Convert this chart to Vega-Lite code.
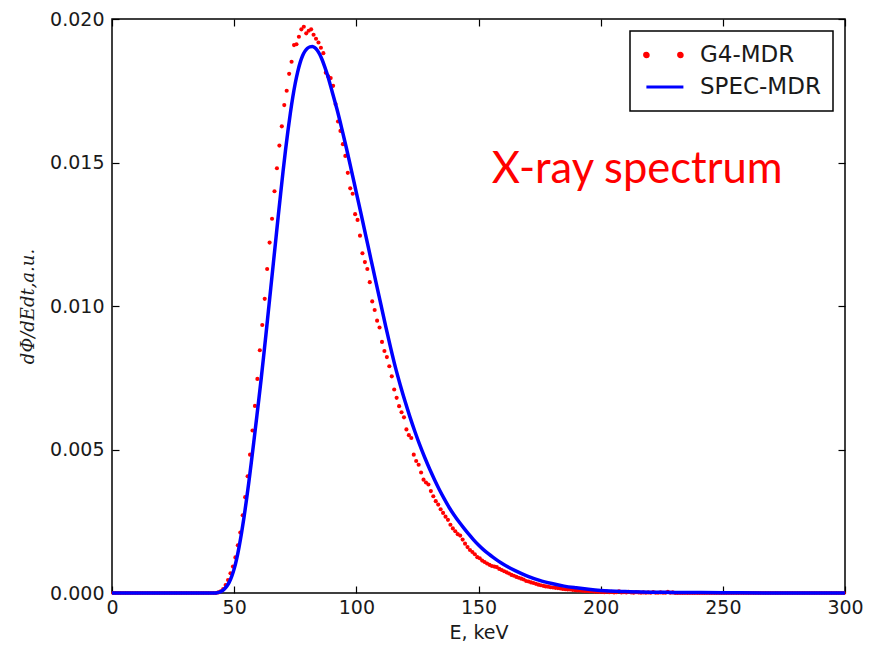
{
  "$schema": "https://vega.github.io/schema/vega-lite/v6.json",
  "width": 733,
  "height": 574,
  "autosize": "none",
  "padding": {"left": 112, "top": 19, "right": 30, "bottom": 52},
  "background": "white",
  "data": {"values": [
    {"s":"G4-MDR","e":0.5,"v":0},{"s":"G4-MDR","e":1.5,"v":0},{"s":"G4-MDR","e":2.5,"v":0},{"s":"G4-MDR","e":3.5,"v":0},{"s":"G4-MDR","e":4.5,"v":0},{"s":"G4-MDR","e":5.5,"v":0},{"s":"G4-MDR","e":6.5,"v":0},{"s":"G4-MDR","e":7.5,"v":0},{"s":"G4-MDR","e":8.5,"v":0},{"s":"G4-MDR","e":9.5,"v":0},
    {"s":"G4-MDR","e":10.5,"v":0},{"s":"G4-MDR","e":11.5,"v":0},{"s":"G4-MDR","e":12.5,"v":0},{"s":"G4-MDR","e":13.5,"v":0},{"s":"G4-MDR","e":14.5,"v":0},{"s":"G4-MDR","e":15.5,"v":0},{"s":"G4-MDR","e":16.5,"v":0},{"s":"G4-MDR","e":17.5,"v":0},{"s":"G4-MDR","e":18.5,"v":0},{"s":"G4-MDR","e":19.5,"v":0},
    {"s":"G4-MDR","e":20.5,"v":0},{"s":"G4-MDR","e":21.5,"v":0},{"s":"G4-MDR","e":22.5,"v":0},{"s":"G4-MDR","e":23.5,"v":0},{"s":"G4-MDR","e":24.5,"v":0},{"s":"G4-MDR","e":25.5,"v":0},{"s":"G4-MDR","e":26.5,"v":0},{"s":"G4-MDR","e":27.5,"v":0},{"s":"G4-MDR","e":28.5,"v":0},{"s":"G4-MDR","e":29.5,"v":0},
    {"s":"G4-MDR","e":30.5,"v":0},{"s":"G4-MDR","e":31.5,"v":0},{"s":"G4-MDR","e":32.5,"v":0},{"s":"G4-MDR","e":33.5,"v":0},{"s":"G4-MDR","e":34.5,"v":0},{"s":"G4-MDR","e":35.5,"v":0},{"s":"G4-MDR","e":36.5,"v":0},{"s":"G4-MDR","e":37.5,"v":0},{"s":"G4-MDR","e":38.5,"v":0},{"s":"G4-MDR","e":39.5,"v":0},
    {"s":"G4-MDR","e":40.5,"v":0},{"s":"G4-MDR","e":41.5,"v":0},{"s":"G4-MDR","e":42.5,"v":0},{"s":"G4-MDR","e":43.5,"v":0.00002},{"s":"G4-MDR","e":44.5,"v":0.00006},{"s":"G4-MDR","e":45.5,"v":0.00014},{"s":"G4-MDR","e":46.5,"v":0.00028},{"s":"G4-MDR","e":47.5,"v":0.00045},{"s":"G4-MDR","e":48.5,"v":0.00069},{"s":"G4-MDR","e":49.5,"v":0.00092},
    {"s":"G4-MDR","e":50.5,"v":0.00124},{"s":"G4-MDR","e":51.5,"v":0.00166},{"s":"G4-MDR","e":52.5,"v":0.00211},{"s":"G4-MDR","e":53.5,"v":0.00271},{"s":"G4-MDR","e":54.5,"v":0.00334},{"s":"G4-MDR","e":55.5,"v":0.00407},{"s":"G4-MDR","e":56.5,"v":0.00482},{"s":"G4-MDR","e":57.5,"v":0.00566},{"s":"G4-MDR","e":58.5,"v":0.00652},{"s":"G4-MDR","e":59.5,"v":0.00746},
    {"s":"G4-MDR","e":60.5,"v":0.00846},{"s":"G4-MDR","e":61.5,"v":0.00934},{"s":"G4-MDR","e":62.5,"v":0.01025},{"s":"G4-MDR","e":63.5,"v":0.01129},{"s":"G4-MDR","e":64.5,"v":0.01221},{"s":"G4-MDR","e":65.5,"v":0.01304},{"s":"G4-MDR","e":66.5,"v":0.01400},{"s":"G4-MDR","e":67.5,"v":0.01480},{"s":"G4-MDR","e":68.5,"v":0.01559},{"s":"G4-MDR","e":69.5,"v":0.01626},
    {"s":"G4-MDR","e":70.5,"v":0.01700},{"s":"G4-MDR","e":71.5,"v":0.01750},{"s":"G4-MDR","e":72.5,"v":0.01809},{"s":"G4-MDR","e":73.5,"v":0.01851},{"s":"G4-MDR","e":74.5,"v":0.01909},{"s":"G4-MDR","e":75.5,"v":0.01912},{"s":"G4-MDR","e":76.5,"v":0.01938},{"s":"G4-MDR","e":77.5,"v":0.01964},{"s":"G4-MDR","e":78.5,"v":0.01973},{"s":"G4-MDR","e":79.5,"v":0.01950},
    {"s":"G4-MDR","e":80.5,"v":0.01959},{"s":"G4-MDR","e":81.5,"v":0.01964},{"s":"G4-MDR","e":82.5,"v":0.01945},{"s":"G4-MDR","e":83.5,"v":0.01931},{"s":"G4-MDR","e":84.5,"v":0.01918},{"s":"G4-MDR","e":85.5,"v":0.01900},{"s":"G4-MDR","e":86.5,"v":0.01881},{"s":"G4-MDR","e":87.5,"v":0.01813},{"s":"G4-MDR","e":88.5,"v":0.01800},{"s":"G4-MDR","e":89.5,"v":0.01794},
    {"s":"G4-MDR","e":90.5,"v":0.01767},{"s":"G4-MDR","e":91.5,"v":0.01704},{"s":"G4-MDR","e":92.5,"v":0.01643},{"s":"G4-MDR","e":93.5,"v":0.01610},{"s":"G4-MDR","e":94.5,"v":0.01564},{"s":"G4-MDR","e":95.5,"v":0.01523},{"s":"G4-MDR","e":96.5,"v":0.01464},{"s":"G4-MDR","e":97.5,"v":0.01410},{"s":"G4-MDR","e":98.5,"v":0.01391},{"s":"G4-MDR","e":99.5,"v":0.01320},
    {"s":"G4-MDR","e":100.5,"v":0.01300},{"s":"G4-MDR","e":101.5,"v":0.01245},{"s":"G4-MDR","e":102.5,"v":0.01184},{"s":"G4-MDR","e":103.5,"v":0.01153},{"s":"G4-MDR","e":104.5,"v":0.01129},{"s":"G4-MDR","e":105.5,"v":0.01083},{"s":"G4-MDR","e":106.5,"v":0.01016},{"s":"G4-MDR","e":107.5,"v":0.00986},{"s":"G4-MDR","e":108.5,"v":0.00949},{"s":"G4-MDR","e":109.5,"v":0.00925},
    {"s":"G4-MDR","e":110.5,"v":0.00875},{"s":"G4-MDR","e":111.5,"v":0.00843},{"s":"G4-MDR","e":112.5,"v":0.00822},{"s":"G4-MDR","e":113.5,"v":0.00790},{"s":"G4-MDR","e":114.5,"v":0.00755},{"s":"G4-MDR","e":115.5,"v":0.00709},{"s":"G4-MDR","e":116.5,"v":0.00680},{"s":"G4-MDR","e":117.5,"v":0.00651},{"s":"G4-MDR","e":118.5,"v":0.00630},{"s":"G4-MDR","e":119.5,"v":0.00612},
    {"s":"G4-MDR","e":120.5,"v":0.00570},{"s":"G4-MDR","e":121.5,"v":0.00550},{"s":"G4-MDR","e":122.5,"v":0.00540},{"s":"G4-MDR","e":123.5,"v":0.00482},{"s":"G4-MDR","e":124.5,"v":0.00460},{"s":"G4-MDR","e":125.5,"v":0.00447},{"s":"G4-MDR","e":126.5,"v":0.00420},{"s":"G4-MDR","e":127.5,"v":0.00395},{"s":"G4-MDR","e":128.5,"v":0.00385},{"s":"G4-MDR","e":129.5,"v":0.00378},
    {"s":"G4-MDR","e":130.5,"v":0.00355},{"s":"G4-MDR","e":131.5,"v":0.00337},{"s":"G4-MDR","e":132.5,"v":0.00320},{"s":"G4-MDR","e":133.5,"v":0.00308},{"s":"G4-MDR","e":134.5,"v":0.00292},{"s":"G4-MDR","e":135.5,"v":0.00279},{"s":"G4-MDR","e":136.5,"v":0.00266},{"s":"G4-MDR","e":137.5,"v":0.00255},{"s":"G4-MDR","e":138.5,"v":0.00238},{"s":"G4-MDR","e":139.5,"v":0.00225},
    {"s":"G4-MDR","e":140.5,"v":0.00215},{"s":"G4-MDR","e":141.5,"v":0.00205},{"s":"G4-MDR","e":142.5,"v":0.00200},{"s":"G4-MDR","e":143.5,"v":0.00186},{"s":"G4-MDR","e":144.5,"v":0.00172},{"s":"G4-MDR","e":145.5,"v":0.00160},{"s":"G4-MDR","e":146.5,"v":0.00150},{"s":"G4-MDR","e":147.5,"v":0.00143},{"s":"G4-MDR","e":148.5,"v":0.00135},{"s":"G4-MDR","e":149.5,"v":0.00125},
    {"s":"G4-MDR","e":150.5,"v":0.00121},{"s":"G4-MDR","e":151.5,"v":0.00113},{"s":"G4-MDR","e":152.5,"v":0.00108},{"s":"G4-MDR","e":153.5,"v":0.00103},{"s":"G4-MDR","e":154.5,"v":0.00098},{"s":"G4-MDR","e":155.5,"v":0.00094},{"s":"G4-MDR","e":156.5,"v":0.00092},{"s":"G4-MDR","e":157.5,"v":0.00090},{"s":"G4-MDR","e":158.5,"v":0.00084},{"s":"G4-MDR","e":159.5,"v":0.00080},
    {"s":"G4-MDR","e":160.5,"v":0.00076},{"s":"G4-MDR","e":161.5,"v":0.00072},{"s":"G4-MDR","e":162.5,"v":0.00068},{"s":"G4-MDR","e":163.5,"v":0.00063},{"s":"G4-MDR","e":164.5,"v":0.00060},{"s":"G4-MDR","e":165.5,"v":0.00056},{"s":"G4-MDR","e":166.5,"v":0.00053},{"s":"G4-MDR","e":167.5,"v":0.00050},{"s":"G4-MDR","e":168.5,"v":0.00047},{"s":"G4-MDR","e":169.5,"v":0.00042},
    {"s":"G4-MDR","e":170.5,"v":0.00040},{"s":"G4-MDR","e":171.5,"v":0.00037},{"s":"G4-MDR","e":172.5,"v":0.00035},{"s":"G4-MDR","e":173.5,"v":0.00032},{"s":"G4-MDR","e":174.5,"v":0.00029},{"s":"G4-MDR","e":175.5,"v":0.00027},{"s":"G4-MDR","e":176.5,"v":0.00025},{"s":"G4-MDR","e":177.5,"v":0.00023},{"s":"G4-MDR","e":178.5,"v":0.00022},{"s":"G4-MDR","e":179.5,"v":0.00020},
    {"s":"G4-MDR","e":180.5,"v":0.00019},{"s":"G4-MDR","e":181.5,"v":0.00018},{"s":"G4-MDR","e":182.5,"v":0.00017},{"s":"G4-MDR","e":183.5,"v":0.00016},{"s":"G4-MDR","e":184.5,"v":0.00014},{"s":"G4-MDR","e":185.5,"v":0.00013},{"s":"G4-MDR","e":186.5,"v":0.00012},{"s":"G4-MDR","e":187.5,"v":0.00012},{"s":"G4-MDR","e":188.5,"v":0.00011},{"s":"G4-MDR","e":189.5,"v":0.00010},
    {"s":"G4-MDR","e":190.5,"v":0.00009},{"s":"G4-MDR","e":191.5,"v":0.00009},{"s":"G4-MDR","e":192.5,"v":0.00008},{"s":"G4-MDR","e":193.5,"v":0.00007},{"s":"G4-MDR","e":194.5,"v":0.00007},{"s":"G4-MDR","e":195.5,"v":0.00006},{"s":"G4-MDR","e":196.5,"v":0.00006},{"s":"G4-MDR","e":197.5,"v":0.00005},{"s":"G4-MDR","e":198.5,"v":0.00005},{"s":"G4-MDR","e":199.5,"v":0.00004},
    {"s":"G4-MDR","e":200.5,"v":0.00004},{"s":"G4-MDR","e":201.5,"v":0.00003},{"s":"G4-MDR","e":202.5,"v":0.00005},{"s":"G4-MDR","e":203.5,"v":0.00003},{"s":"G4-MDR","e":204.5,"v":0.00004},{"s":"G4-MDR","e":205.5,"v":0.00002},{"s":"G4-MDR","e":206.5,"v":0.00003},{"s":"G4-MDR","e":207.5,"v":0.00006},{"s":"G4-MDR","e":208.5,"v":0.00002},{"s":"G4-MDR","e":209.5,"v":0.00003},
    {"s":"G4-MDR","e":210.5,"v":0.00002},{"s":"G4-MDR","e":211.5,"v":0.00004},{"s":"G4-MDR","e":212.5,"v":0.00002},{"s":"G4-MDR","e":213.5,"v":0.00001},{"s":"G4-MDR","e":214.5,"v":0.00003},{"s":"G4-MDR","e":215.5,"v":0.00002},{"s":"G4-MDR","e":216.5,"v":0.00001},{"s":"G4-MDR","e":217.5,"v":0.00002},{"s":"G4-MDR","e":218.5,"v":0.00001},{"s":"G4-MDR","e":219.5,"v":0.00002},
    {"s":"G4-MDR","e":220.5,"v":0.00001},{"s":"G4-MDR","e":221.5,"v":0.00003},{"s":"G4-MDR","e":222.5,"v":0.00001},{"s":"G4-MDR","e":223.5,"v":0.00001},{"s":"G4-MDR","e":224.5,"v":0.00002},{"s":"G4-MDR","e":225.5,"v":0.00001},{"s":"G4-MDR","e":226.5,"v":0.00001},{"s":"G4-MDR","e":227.5,"v":0.00004},{"s":"G4-MDR","e":228.5,"v":0.00001},{"s":"G4-MDR","e":229.5,"v":0.00002},
    {"s":"G4-MDR","e":230.5,"v":0},{"s":"G4-MDR","e":231.5,"v":0},{"s":"G4-MDR","e":232.5,"v":0},{"s":"G4-MDR","e":233.5,"v":0},{"s":"G4-MDR","e":234.5,"v":0},{"s":"G4-MDR","e":235.5,"v":0},{"s":"G4-MDR","e":236.5,"v":0},{"s":"G4-MDR","e":237.5,"v":0},{"s":"G4-MDR","e":238.5,"v":0},{"s":"G4-MDR","e":239.5,"v":0},
    {"s":"G4-MDR","e":240.5,"v":0},{"s":"G4-MDR","e":241.5,"v":0},{"s":"G4-MDR","e":242.5,"v":0},{"s":"G4-MDR","e":243.5,"v":0},{"s":"G4-MDR","e":244.5,"v":0},{"s":"G4-MDR","e":245.5,"v":0},{"s":"G4-MDR","e":246.5,"v":0},{"s":"G4-MDR","e":247.5,"v":0},{"s":"G4-MDR","e":248.5,"v":0},{"s":"G4-MDR","e":249.5,"v":0},
    {"s":"G4-MDR","e":250.5,"v":0},{"s":"G4-MDR","e":251.5,"v":0},{"s":"G4-MDR","e":252.5,"v":0},{"s":"G4-MDR","e":253.5,"v":0},{"s":"G4-MDR","e":254.5,"v":0},{"s":"G4-MDR","e":255.5,"v":0},{"s":"G4-MDR","e":256.5,"v":0},{"s":"G4-MDR","e":257.5,"v":0},{"s":"G4-MDR","e":258.5,"v":0},{"s":"G4-MDR","e":259.5,"v":0},
    {"s":"G4-MDR","e":260.5,"v":0},{"s":"G4-MDR","e":261.5,"v":0},{"s":"G4-MDR","e":262.5,"v":0},{"s":"G4-MDR","e":263.5,"v":0},{"s":"G4-MDR","e":264.5,"v":0},{"s":"G4-MDR","e":265.5,"v":0},{"s":"G4-MDR","e":266.5,"v":0},{"s":"G4-MDR","e":267.5,"v":0},{"s":"G4-MDR","e":268.5,"v":0},{"s":"G4-MDR","e":269.5,"v":0},
    {"s":"G4-MDR","e":270.5,"v":0},{"s":"G4-MDR","e":271.5,"v":0},{"s":"G4-MDR","e":272.5,"v":0},{"s":"G4-MDR","e":273.5,"v":0},{"s":"G4-MDR","e":274.5,"v":0},{"s":"G4-MDR","e":275.5,"v":0},{"s":"G4-MDR","e":276.5,"v":0},{"s":"G4-MDR","e":277.5,"v":0},{"s":"G4-MDR","e":278.5,"v":0},{"s":"G4-MDR","e":279.5,"v":0},
    {"s":"G4-MDR","e":280.5,"v":0},{"s":"G4-MDR","e":281.5,"v":0},{"s":"G4-MDR","e":282.5,"v":0},{"s":"G4-MDR","e":283.5,"v":0},{"s":"G4-MDR","e":284.5,"v":0},{"s":"G4-MDR","e":285.5,"v":0},{"s":"G4-MDR","e":286.5,"v":0},{"s":"G4-MDR","e":287.5,"v":0},{"s":"G4-MDR","e":288.5,"v":0},{"s":"G4-MDR","e":289.5,"v":0},
    {"s":"G4-MDR","e":290.5,"v":0},{"s":"G4-MDR","e":291.5,"v":0},{"s":"G4-MDR","e":292.5,"v":0},{"s":"G4-MDR","e":293.5,"v":0},{"s":"G4-MDR","e":294.5,"v":0},{"s":"G4-MDR","e":295.5,"v":0},{"s":"G4-MDR","e":296.5,"v":0},{"s":"G4-MDR","e":297.5,"v":0},{"s":"G4-MDR","e":298.5,"v":0},{"s":"G4-MDR","e":299.5,"v":0},
    {"s":"SPEC-MDR","e":0,"v":0},{"s":"SPEC-MDR","e":20,"v":0},{"s":"SPEC-MDR","e":40,"v":0},{"s":"SPEC-MDR","e":42,"v":0},{"s":"SPEC-MDR","e":43,"v":0.00001},{"s":"SPEC-MDR","e":44,"v":0.00003},{"s":"SPEC-MDR","e":45,"v":0.00007},{"s":"SPEC-MDR","e":46,"v":0.00014},{"s":"SPEC-MDR","e":47,"v":0.00024},{"s":"SPEC-MDR","e":48,"v":0.00038},{"s":"SPEC-MDR","e":49,"v":0.00058},
    {"s":"SPEC-MDR","e":50,"v":0.00084},{"s":"SPEC-MDR","e":51,"v":0.00118},{"s":"SPEC-MDR","e":52,"v":0.00160},{"s":"SPEC-MDR","e":53,"v":0.00208},{"s":"SPEC-MDR","e":54,"v":0.00262},{"s":"SPEC-MDR","e":55,"v":0.00322},{"s":"SPEC-MDR","e":56,"v":0.00386},{"s":"SPEC-MDR","e":57,"v":0.00454},{"s":"SPEC-MDR","e":58,"v":0.00524},{"s":"SPEC-MDR","e":59,"v":0.00596},
    {"s":"SPEC-MDR","e":60,"v":0.00668},{"s":"SPEC-MDR","e":61,"v":0.00742},{"s":"SPEC-MDR","e":62,"v":0.00820},{"s":"SPEC-MDR","e":63,"v":0.00900},{"s":"SPEC-MDR","e":64,"v":0.00982},{"s":"SPEC-MDR","e":65,"v":0.01064},{"s":"SPEC-MDR","e":66,"v":0.01146},{"s":"SPEC-MDR","e":67,"v":0.01228},{"s":"SPEC-MDR","e":68,"v":0.01310},{"s":"SPEC-MDR","e":69,"v":0.01390},
    {"s":"SPEC-MDR","e":70,"v":0.01468},{"s":"SPEC-MDR","e":71,"v":0.01542},{"s":"SPEC-MDR","e":72,"v":0.01610},{"s":"SPEC-MDR","e":73,"v":0.01672},{"s":"SPEC-MDR","e":74,"v":0.01728},{"s":"SPEC-MDR","e":75,"v":0.01776},{"s":"SPEC-MDR","e":76,"v":0.01816},{"s":"SPEC-MDR","e":77,"v":0.01848},{"s":"SPEC-MDR","e":78,"v":0.01872},{"s":"SPEC-MDR","e":79,"v":0.01888},
    {"s":"SPEC-MDR","e":80,"v":0.01898},{"s":"SPEC-MDR","e":81,"v":0.01903},{"s":"SPEC-MDR","e":82,"v":0.01904},{"s":"SPEC-MDR","e":83,"v":0.01900},{"s":"SPEC-MDR","e":84,"v":0.01891},{"s":"SPEC-MDR","e":85,"v":0.01877},{"s":"SPEC-MDR","e":86,"v":0.01858},{"s":"SPEC-MDR","e":87,"v":0.01835},{"s":"SPEC-MDR","e":88,"v":0.01810},
    {"s":"SPEC-MDR","e":90,"v":0.01750},{"s":"SPEC-MDR","e":92,"v":0.01688},{"s":"SPEC-MDR","e":94,"v":0.01620},{"s":"SPEC-MDR","e":96,"v":0.01548},{"s":"SPEC-MDR","e":98,"v":0.01472},{"s":"SPEC-MDR","e":100,"v":0.01395},{"s":"SPEC-MDR","e":102,"v":0.01318},{"s":"SPEC-MDR","e":104,"v":0.01240},{"s":"SPEC-MDR","e":106,"v":0.01162},{"s":"SPEC-MDR","e":108,"v":0.01084},
    {"s":"SPEC-MDR","e":110,"v":0.01007},{"s":"SPEC-MDR","e":112,"v":0.00930},{"s":"SPEC-MDR","e":114,"v":0.00856},{"s":"SPEC-MDR","e":116,"v":0.00786},{"s":"SPEC-MDR","e":118,"v":0.00724},{"s":"SPEC-MDR","e":120,"v":0.00666},{"s":"SPEC-MDR","e":122,"v":0.00612},{"s":"SPEC-MDR","e":124,"v":0.00562},{"s":"SPEC-MDR","e":126,"v":0.00515},{"s":"SPEC-MDR","e":128,"v":0.00472},
    {"s":"SPEC-MDR","e":130,"v":0.00432},{"s":"SPEC-MDR","e":132,"v":0.00395},{"s":"SPEC-MDR","e":134,"v":0.00360},{"s":"SPEC-MDR","e":136,"v":0.00328},{"s":"SPEC-MDR","e":138,"v":0.00298},{"s":"SPEC-MDR","e":140,"v":0.00272},{"s":"SPEC-MDR","e":142,"v":0.00248},{"s":"SPEC-MDR","e":144,"v":0.00226},{"s":"SPEC-MDR","e":146,"v":0.00205},{"s":"SPEC-MDR","e":148,"v":0.00185},
    {"s":"SPEC-MDR","e":150,"v":0.00167},{"s":"SPEC-MDR","e":152,"v":0.00151},{"s":"SPEC-MDR","e":154,"v":0.00137},{"s":"SPEC-MDR","e":156,"v":0.00124},{"s":"SPEC-MDR","e":158,"v":0.00112},{"s":"SPEC-MDR","e":160,"v":0.00101},{"s":"SPEC-MDR","e":165,"v":0.00078},{"s":"SPEC-MDR","e":170,"v":0.00059},{"s":"SPEC-MDR","e":175,"v":0.00044},{"s":"SPEC-MDR","e":180,"v":0.00033},
    {"s":"SPEC-MDR","e":185,"v":0.00024},{"s":"SPEC-MDR","e":190,"v":0.00018},{"s":"SPEC-MDR","e":195,"v":0.00013},{"s":"SPEC-MDR","e":200,"v":0.00009},{"s":"SPEC-MDR","e":210,"v":0.00005},{"s":"SPEC-MDR","e":220,"v":0.00003},{"s":"SPEC-MDR","e":230,"v":0.00002},{"s":"SPEC-MDR","e":250,"v":0.00001},{"s":"SPEC-MDR","e":270,"v":0},{"s":"SPEC-MDR","e":300,"v":0}
  ]},
  "layer": [
    {
      "transform": [{"filter": "datum.s === 'G4-MDR'"}],
      "mark": {"type": "point", "filled": true, "size": 17, "opacity": 1},
      "encoding": {
        "x": {"field": "e", "type": "quantitative", "scale": {"domain": [0, 300], "nice": false},
              "axis": {"orient": "bottom", "values": [0, 50, 100, 150, 200, 250, 300], "title": "E, keV", "labelFlush": false, "labelOverlap": false, "labelPadding": 12, "titlePadding": 6}},
        "y": {"field": "v", "type": "quantitative", "scale": {"domain": [0, 0.02], "nice": false, "zero": true},
              "axis": {"orient": "left", "values": [0, 0.005, 0.01, 0.015, 0.02], "format": ".3f", "title": "dΦ/dEdt,a.u.", "titleFont": "DejaVu Serif", "titleFontStyle": "italic", "titleFontSize": 18, "labelPadding": 15, "titlePadding": 12}},
        "color": {"field": "s", "type": "nominal", "scale": {"domain": ["G4-MDR", "SPEC-MDR"], "range": ["#ff0000", "#0000ff"]},
          "legend": {"title": null, "orient": "top-right", "offset": 12, "padding": 12, "rowPadding": 8,
            "labelFont": "DejaVu Sans", "labelFontSize": 23, "labelColor": "#1a1a1a", "labelOffset": 34,
            "symbolSize": 400, "fillColor": "white", "strokeColor": "#000",
            "encoding": {
              "symbols": {
                "shape": {"value": {"expr": "datum.value === 'G4-MDR' ? 'M-0.93,0a0.17,0.17 0 1,0 0.34,0a0.17,0.17 0 1,0 -0.34,0zM2.47,0a0.17,0.17 0 1,0 0.34,0a0.17,0.17 0 1,0 -0.34,0z' : 'M-0.76,0L2.94,0'"}},
                "fill": {"value": {"expr": "datum.value === 'G4-MDR' ? '#ff0000' : 'transparent'"}},
                "stroke": {"value": {"expr": "datum.value === 'G4-MDR' ? 'transparent' : '#0000ff'"}},
                "strokeWidth": {"value": 3.2},
                "opacity": {"value": 1}
              },
              "legend": {"strokeWidth": {"value": 1.5}}
            }}}
      }
    },
    {
      "transform": [{"filter": "datum.s === 'SPEC-MDR'"}],
      "mark": {"type": "line", "strokeWidth": 3.5, "interpolate": "monotone"},
      "encoding": {
        "x": {"field": "e", "type": "quantitative", "axis": {"orient": "top", "values": [0, 50, 100, 150, 200, 250, 300], "labels": false, "title": null}},
        "y": {"field": "v", "type": "quantitative", "axis": {"orient": "right", "values": [0, 0.005, 0.01, 0.015, 0.02], "labels": false, "title": null}},
        "color": {"field": "s", "type": "nominal"}
      }
    },
    {
      "data": {"values": [{"label": "X-ray spectrum", "e": 155.4, "v": 0.01428}]},
      "mark": {"type": "text", "align": "left", "baseline": "alphabetic", "font": "Lato", "fontSize": 43.5, "color": "#ff0000"},
      "encoding": {
        "x": {"field": "e", "type": "quantitative", "axis": null},
        "y": {"field": "v", "type": "quantitative", "axis": null},
        "text": {"field": "label"}
      }
    }
  ],
  "resolve": {"axis": {"x": "independent", "y": "independent"}},
  "config": {
    "view": {"stroke": "#000", "strokeWidth": 1.5},
    "axis": {"grid": false, "domain": false, "labelFont": "DejaVu Sans", "labelFontSize": 19, "labelColor": "#1a1a1a",
             "titleFont": "DejaVu Sans", "titleFontSize": 19, "titleColor": "#1a1a1a", "titleFontWeight": "normal",
             "tickColor": "#000", "tickSize": -7, "tickWidth": 1.2}
  }
}
